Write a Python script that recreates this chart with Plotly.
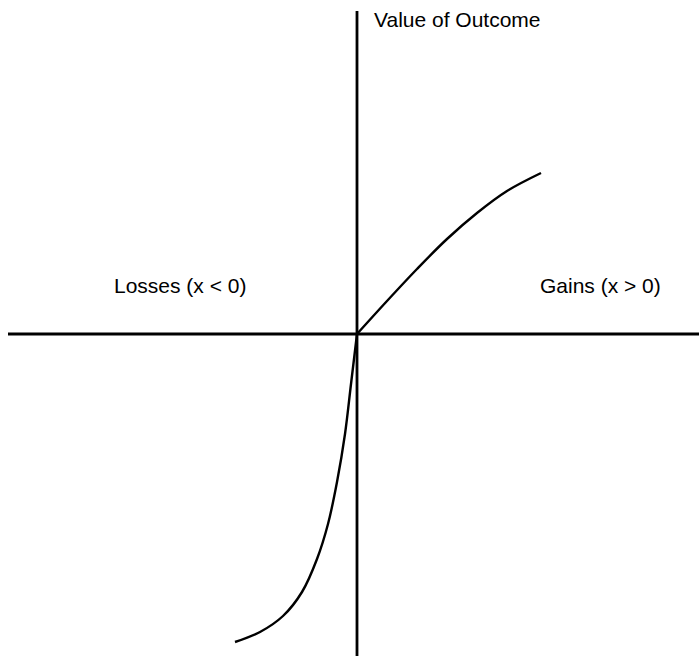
import plotly.graph_objects as go

# Value function sampled along the outcome axis (outcome, value)
loss_x = [-122, -97, -74, -55, -40, -29, -20, -12, -6, 0]
loss_v = [-308, -298, -282, -258, -225, -190, -148, -100, -50, 0]
gain_x = [0, 30, 60, 90, 120, 150, 184]
gain_v = [0, 33, 65, 95, 121, 143, 161]

# Extent of the drawn reference axes
outcome_axis = [-349, 342]
value_axis = [-322, 323]

x_range = [-357, 342]
y_range = [-322, 334]

fig = go.Figure()

# horizontal outcome axis and vertical value axis
fig.add_trace(go.Scatter(x=outcome_axis, y=[0, 0], mode="lines",
                         line=dict(color="black", width=2.8), hoverinfo="skip"))
fig.add_trace(go.Scatter(x=[0, 0], y=value_axis, mode="lines",
                         line=dict(color="black", width=2.8), hoverinfo="skip"))

# value curve: losses branch and gains branch meet with a kink at the origin
curve_line = dict(color="black", width=2.4, shape="spline", smoothing=1.0)
fig.add_trace(go.Scatter(x=loss_x, y=loss_v, mode="lines",
                         line=curve_line, hoverinfo="skip"))
fig.add_trace(go.Scatter(x=gain_x, y=gain_v, mode="lines",
                         line=curve_line, hoverinfo="skip"))

font = dict(family="Liberation Sans, Arial, Helvetica, sans-serif", size=21, color="black")
fig.add_annotation(x=15, y=314.5, text="Value of Outcome", showarrow=False,
                   xanchor="left", yanchor="middle", font=font)
fig.add_annotation(x=-245, y=48.5, text="Losses (x < 0)", showarrow=False,
                   xanchor="left", yanchor="middle", font=font)
fig.add_annotation(x=181, y=48.5, text="Gains (x > 0)", showarrow=False,
                   xanchor="left", yanchor="middle", font=font)

fig.update_layout(
    width=699, height=656,
    margin=dict(l=0, r=0, t=0, b=0),
    paper_bgcolor="white", plot_bgcolor="white",
    showlegend=False,
    xaxis=dict(range=x_range, visible=False, fixedrange=True),
    yaxis=dict(range=y_range, visible=False, fixedrange=True),
)

fig.write_html("out.html")
